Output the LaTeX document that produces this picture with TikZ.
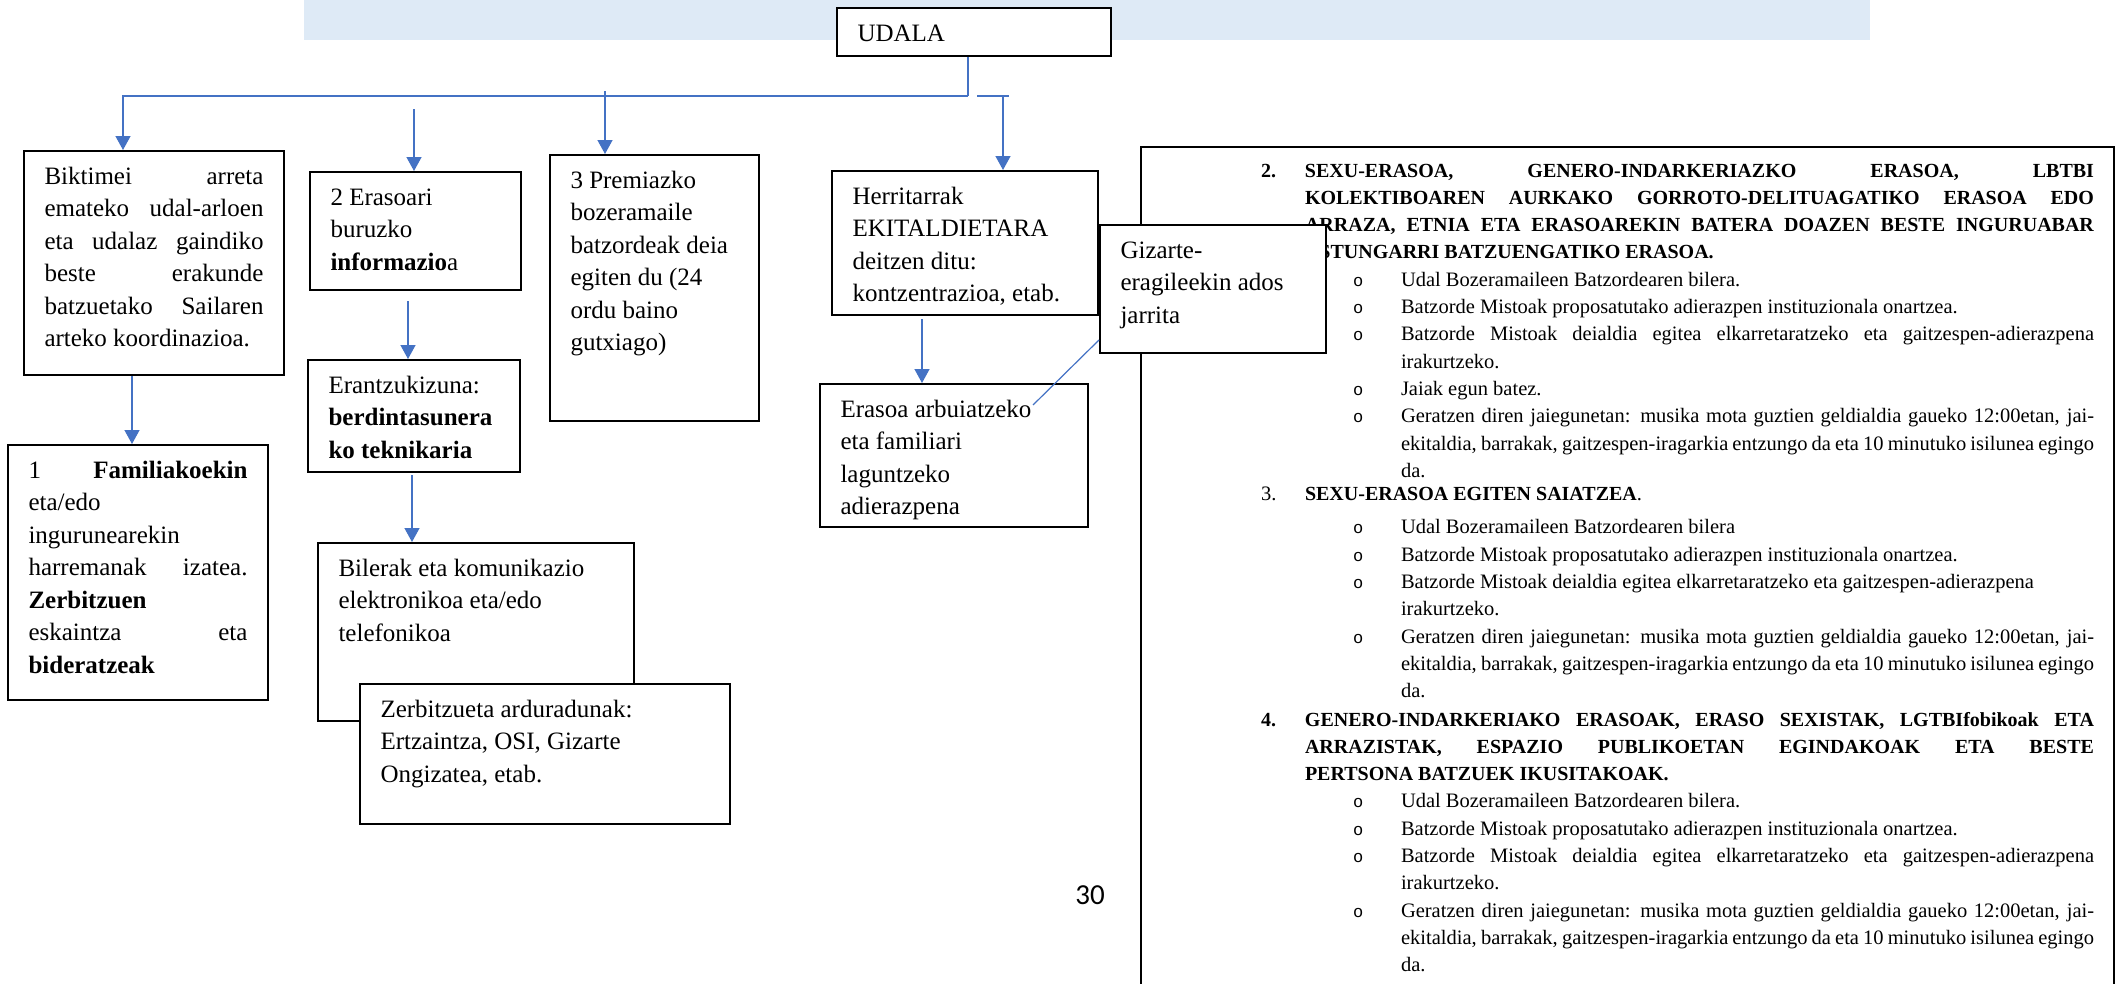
\documentclass[tikz,border=0pt]{standalone}
\usepackage{fontspec}
\setmainfont{Liberation Serif}
\newfontfamily\bulfont{Liberation Mono}
\newfontfamily\pagefont{Carlito}
\usepackage{tikz}
\usetikzlibrary{arrows.meta}
\definecolor{linkblue}{RGB}{68,114,196}
\definecolor{bandblue}{RGB}{222,234,246}

\newcommand{\boxsize}{\fontsize{25}{32.5}\selectfont}
\newcommand{\listsize}{\fontsize{20.5}{27.3}\selectfont}
\newcommand{\hdsize}{\fontsize{20}{27.3}\selectfont}
\newcommand{\natsp}{\spaceskip=0pt\xspaceskip=0pt\relax}
\newcommand{\jst}[2]{\makebox[#1][s]{\natsp #2}}
\newcommand{\hdline}[2]{\hspace*{120pt}\makebox[44pt][l]{#1}#2}
\newcommand{\itline}[2]{\hspace*{212pt}\makebox[48pt][l]{#1}#2}
\newcommand{\bul}{{\bulfont\fontsize{17}{17}\selectfont o}}

\begin{document}
\begin{tikzpicture}[x=1pt, y=-1pt,
    frame/.style={draw, line width=2pt, fill=white, anchor=north west,
      inner xsep=20.5pt, inner ysep=0pt, text height=33pt, align=left, font=\boxsize,
      execute at begin node=\natsp},
    conn/.style={draw=linkblue, line width=1.4pt},
    arr/.style={conn, -{Triangle[width=15pt,length=14pt]}}]
            \path[use as bounding box, clip] (0,0) rectangle (2121,983);
            \fill[bandblue] (304,0) rectangle (1870,40);

            \node[frame, text width=233pt, text depth=15pt] (udala) at (836,7) {UDALA};
            \node[frame, text width=219pt, text depth=191pt] (bikt) at (23,150)
              {\jst{\linewidth}{Biktimei arreta}\\ \jst{\linewidth}{emateko udal-arloen}\\
               \jst{\linewidth}{eta udalaz gaindiko}\\ \jst{\linewidth}{beste erakunde}\\
               \jst{\linewidth}{batzuetako Sailaren}\\ arteko koordinazioa.};
            \node[frame, text width=170pt, text depth=85pt] (eraso) at (309,171)
              {2 Erasoari\\ buruzko\\ \textbf{informazio}a};
            \node[frame, text width=168pt, text depth=233pt] (premia) at (549,154)
              {3 Premiazko\\ bozeramaile\\ batzordeak deia\\ egiten du (24\\ ordu baino\\ gutxiago)};
            \node[frame, text width=225pt, text depth=111pt] (herri) at (831,170)
              {Herritarrak\\ EKITALDIETARA\\ deitzen ditu:\\ kontzentrazioa, etab.};
            \node[frame, text width=219pt, text depth=222pt] (famil) at (7,444)
              {\jst{\linewidth}{1 \textbf{Familiakoekin}}\\ eta/edo\\ ingurunearekin\\
               \jst{\linewidth}{harremanak izatea.}\\ \textbf{Zerbitzuen}\\
               \jst{\linewidth}{eskaintza eta}\\ \textbf{bideratzeak}};
            \node[frame, text width=171pt, text depth=79pt] (erantz) at (307,359)
              {Erantzukizuna:\\ \textbf{berdintasunera}\\ \textbf{ko teknikaria}};
            \node[frame, text width=275pt, text depth=145pt] (bilera) at (317,542)
              {Bilerak eta komunikazio\\ elektronikoa eta/edo\\ telefonikoa};
            \node[frame, text width=329pt, text depth=107pt] (zerbitz) at (359,683)
              {Zerbitzueta arduradunak:\\ Ertzaintza, OSI, Gizarte\\ Ongizatea, etab.};
            \node[frame, text width=227pt, text depth=110pt] (arbuio) at (819,383)
              {Erasoa arbuiatzeko\\ eta familiari\\ laguntzeko\\ adierazpena};

            \node[frame, inner xsep=0pt, text height=30pt, text depth=900pt,
                  text width=973pt, font=\listsize] (zerrenda) at (1140,146) {%
\hdline{\hdsize\bfseries 2.}{\jst{789pt}{\hdsize\bfseries SEXU-ERASOA, GENERO-INDARKERIAZKO ERASOA, LBTBI}}\\
\hdline{}{\jst{789pt}{\hdsize\bfseries KOLEKTIBOAREN AURKAKO GORROTO-DELITUAGATIKO ERASOA EDO}}\\
\hdline{}{\jst{789pt}{\hdsize\bfseries ARRAZA, ETNIA ETA ERASOAREKIN BATERA DOAZEN BESTE INGURUABAR}}\\
\hdline{}{{\hdsize\bfseries ASTUNGARRI BATZUENGATIKO ERASOA.}}\\
\itline{\bul}{Udal Bozeramaileen Batzordearen bilera.}\\
\itline{\bul}{Batzorde Mistoak proposatutako adierazpen instituzionala onartzea.}\\
\itline{\bul}{\jst{693pt}{Batzorde Mistoak deialdia egitea elkarretaratzeko eta gaitzespen-adierazpena}}\\
\itline{}{irakurtzeko.}\\
\itline{\bul}{Jaiak egun batez.}\\
\itline{\bul}{\jst{693pt}{Geratzen diren jaiegunetan: musika mota guztien geldialdia gaueko 12:00etan, jai-}}\\
\itline{}{\jst{693pt}{ekitaldia, barrakak, gaitzespen-iragarkia entzungo da eta 10 minutuko isilunea egingo}}\\
\itline{}{da.}\\[-4pt]
\hdline{3.}{{\hdsize\bfseries SEXU-ERASOA EGITEN SAIATZEA}.}\\[6pt]
\itline{\bul}{Udal Bozeramaileen Batzordearen bilera}\\
\itline{\bul}{Batzorde Mistoak proposatutako adierazpen instituzionala onartzea.}\\
\itline{\bul}{Batzorde Mistoak deialdia egitea elkarretaratzeko eta gaitzespen-adierazpena}\\
\itline{}{irakurtzeko.}\\
\itline{\bul}{\jst{693pt}{Geratzen diren jaiegunetan: musika mota guztien geldialdia gaueko 12:00etan, jai-}}\\
\itline{}{\jst{693pt}{ekitaldia, barrakak, gaitzespen-iragarkia entzungo da eta 10 minutuko isilunea egingo}}\\
\itline{}{da.}\\[1pt]
\hdline{\hdsize\bfseries 4.}{\jst{789pt}{\hdsize\bfseries GENERO-INDARKERIAKO ERASOAK, ERASO SEXISTAK, LGTBIfobikoak ETA}}\\
\hdline{}{\jst{789pt}{\hdsize\bfseries ARRAZISTAK, ESPAZIO PUBLIKOETAN EGINDAKOAK ETA BESTE}}\\
\hdline{}{{\hdsize\bfseries PERTSONA BATZUEK IKUSITAKOAK.}}\\
\itline{\bul}{Udal Bozeramaileen Batzordearen bilera.}\\
\itline{\bul}{Batzorde Mistoak proposatutako adierazpen instituzionala onartzea.}\\
\itline{\bul}{\jst{693pt}{Batzorde Mistoak deialdia egitea elkarretaratzeko eta gaitzespen-adierazpena}}\\
\itline{}{irakurtzeko.}\\
\itline{\bul}{\jst{693pt}{Geratzen diren jaiegunetan: musika mota guztien geldialdia gaueko 12:00etan, jai-}}\\
\itline{}{\jst{693pt}{ekitaldia, barrakak, gaitzespen-iragarkia entzungo da eta 10 minutuko isilunea egingo}}\\
\itline{}{da.}};

            \node[frame, text width=185pt, text depth=95pt] (gizarte) at (1099,224)
              {Gizarte-\\ eragileekin ados\\ jarrita};
            \node[font=\pagefont\fontsize{29}{29}\selectfont] (orria) at (1090,895) {30};

            \coordinate (elbow) at (968,96);
            \coordinate (gapL) at (977,96);
            \coordinate (gapR) at (1009,96);
            \coordinate (top2) at (414,109);
            \coordinate (top3) at (605,91);
            \coordinate (ea) at (1033,405);
            \draw[conn] (udala.south -| elbow) -- (elbow);
            \draw[arr] (elbow) -| (bikt.north -| 123,0);
            \draw[conn] (gapL) -- (gapR);
            \draw[arr] (gapL -| 1003,0) -- (herri.north -| 1003,0);
            \draw[arr] (top2) -- (eraso.north -| top2);
            \draw[arr] (top3) -- (premia.north -| top3);
            \draw[arr] (bikt.south -| 132,0) -- (famil.north -| 132,0);
            \draw[arr, shorten <=10pt] (eraso.south -| 408,0) -- (erantz.north -| 408,0);
            \draw[arr, shorten <=2pt] (erantz.south -| 412,0) -- (bilera.north -| 412,0);
            \draw[arr, shorten <=3pt] (herri.south -| 922,0) -- (arbuio.north -| 922,0);
            \draw[conn, line width=1.2pt] ([yshift=14pt]gizarte.south west) -- (ea);
        \end{tikzpicture}
\end{document}
